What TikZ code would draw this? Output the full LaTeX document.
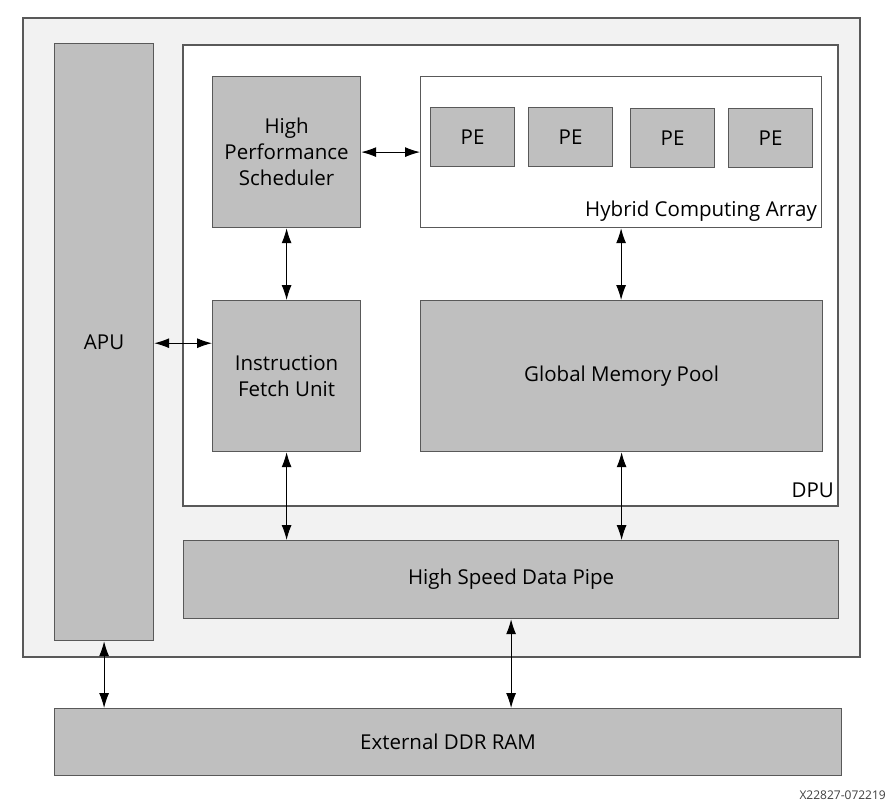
\documentclass[tikz,border=0pt]{standalone}
\usepackage{fontspec}
\setmainfont{Open Sans}
\usetikzlibrary{arrows.meta}
\definecolor{outerfill}{HTML}{F2F2F2}
\definecolor{boxfill}{HTML}{BFBFBF}
\definecolor{edge}{HTML}{595959}
\tikzset{
  blk/.style={draw=edge, line width=1.2pt, fill=boxfill, inner sep=0pt, align=center, font=\fontsize{20.5}{26}\selectfont},
  frame/.style={draw=edge, line width=1.2pt, inner sep=0pt},
  conn/.style={arrows={Latex[length=15pt,width=10pt]-Latex[length=15pt,width=10pt]}, line width=1pt, black},
  lbl/.style={font=\fontsize{20.5}{26}\selectfont, inner sep=0pt}
}
\begin{document}
\begin{tikzpicture}[x=1pt,y=-1pt]
\useasboundingbox (0,0) rectangle (891,807);
\fill[white] (0,0) rectangle (891,807);
% outer
\draw[frame, fill=outerfill] (23,18) rectangle (860,657);
% DPU
\draw[frame, fill=white] (183,45) rectangle (838,506);
\node[lbl, anchor=south east] (dpulbl) at (834,498) {DPU};
% APU
\node[blk, minimum width=99pt, minimum height=597pt, anchor=north west] (apu) at (54,43) {APU};
% Scheduler
\node[blk, minimum width=148pt, minimum height=151pt, anchor=north west] (sch) at (212,76) {High\\Performance\\Scheduler};
% Hybrid array
\node[frame, fill=white, minimum width=401pt, minimum height=151pt, anchor=north west] (hca) at (420,76) {};
\node[lbl, anchor=south east] (hcalbl) at (817,222) {Hybrid Computing Array};
\node[blk, minimum width=84pt, minimum height=59pt, anchor=north west] (pe1) at (430,107) {PE};
\node[blk, minimum width=84pt, minimum height=59pt, anchor=north west] (pe2) at (528,107) {PE};
\node[blk, minimum width=84pt, minimum height=59pt, anchor=north west] (pe3) at (630,108) {PE};
\node[blk, minimum width=84pt, minimum height=59pt, anchor=north west] (pe4) at (728,108) {PE};
% IFU
\node[blk, minimum width=148pt, minimum height=151pt, anchor=north west] (ifu) at (212,300) {Instruction\\Fetch Unit};
% GMP
\node[blk, minimum width=402pt, minimum height=151pt, anchor=north west] (gmp) at (420,300) {Global Memory Pool};
% HSDP
\node[blk, minimum width=655pt, minimum height=78pt, anchor=north west] (hsdp) at (183,540) {High Speed Data Pipe};
% DDR
\node[blk, minimum width=787pt, minimum height=67pt, anchor=north west] (ddr) at (54,708) {External DDR RAM};
\node[font=\fontsize{12}{14}\selectfont, text=black!75, anchor=south east, inner sep=0pt] (wm) at (886,800) {X22827-072219};
% connectors
\draw[conn] (sch.east) -- (hca.west);
\draw[conn] (sch.south) -- (ifu.north);
\draw[conn] (hca.south) -- (gmp.north -| hca.south);
\draw[conn] (apu.east |- sch.south) ++(0,115) coordinate (a1) -- (a1 -| ifu.west);
\draw[conn] (ifu.south) -- (ifu.south |- hsdp.north);
\draw[conn] (gmp.south) -- (gmp.south |- hsdp.north);
\draw[conn] (hsdp.south) -- (hsdp.south |- ddr.north);
\draw[conn] (apu.south) -- (apu.south |- ddr.north);
\end{tikzpicture}
\end{document}
